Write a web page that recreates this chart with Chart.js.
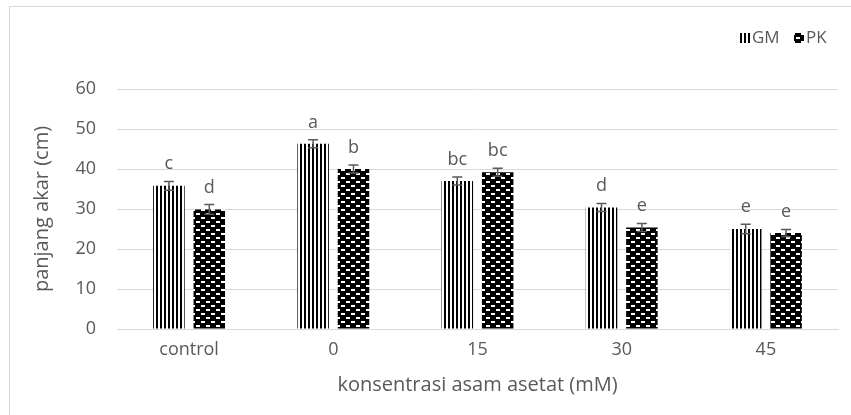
<!DOCTYPE html>
<html>
<head>
<meta charset="utf-8">
<script src="https://cdn.jsdelivr.net/npm/chart.js@4"></script>
<style>
  html, body { margin: 0; padding: 0; background: #fff; }
  #wrap { position: relative; width: 851px; height: 415px; }
</style>
</head>
<body>
<div id="wrap"><canvas id="c" width="851" height="415"></canvas></div>
<script>
// Root length per acetic acid concentration, two varieties
const categories = ['control', '0', '15', '30', '45'];
const gmValues = [35.8, 46.3, 37.0, 30.4, 25.0];
const pkValues = [29.9, 40.0, 39.2, 25.4, 24.0];
const gmErrors = [1.1, 1.0, 1.0, 1.0, 1.2];
const pkErrors = [1.2, 1.0, 1.0, 1.0, 0.9];
const gmLetters = ['c', 'a', 'bc', 'd', 'e'];
const pkLetters = ['d', 'b', 'bc', 'e', 'e'];
const yTicks = [0, 10, 20, 30, 40, 50, 60];

const FONT = '"Open Sans", "Noto Sans", sans-serif';
const TEXT = '#595959';

// vertical stripe fill
function stripePattern() {
  const t = document.createElement('canvas');
  t.width = 4; t.height = 4;
  const g = t.getContext('2d');
  g.fillStyle = '#ffffff'; g.fillRect(0, 0, 4, 4);
  g.fillStyle = '#000000'; g.fillRect(0, 0, 2, 4);
  return g.createPattern(t, 'repeat');
}
// black fill with staggered white dashes
function brickPattern() {
  const t = document.createElement('canvas');
  t.width = 10; t.height = 8;
  const g = t.getContext('2d');
  g.fillStyle = '#000000'; g.fillRect(0, 0, 10, 8);
  g.fillStyle = '#ffffff';
  g.fillRect(1, 1, 4, 2);
  g.fillRect(6, 5, 4, 2);
  g.fillRect(0, 5, 0, 2);
  return g.createPattern(t, 'repeat');
}
const gmFill = stripePattern();
const pkFill = brickPattern();

// error bars and significance letters
const errorPlugin = {
  id: 'errorBars',
  afterDatasetsDraw(chart) {
    const ctx = chart.ctx;
    const y = chart.scales.y;
    const errs = [gmErrors, pkErrors];
    const letters = [gmLetters, pkLetters];
    chart.data.datasets.forEach((ds, di) => {
      const meta = chart.getDatasetMeta(di);
      meta.data.forEach((bar, i) => {
        const v = ds.data[i];
        const top = y.getPixelForValue(v + errs[di][i]);
        const bot = y.getPixelForValue(v - errs[di][i]);
        const x = bar.x;
        ctx.save();
        ctx.strokeStyle = '#595959';
        ctx.lineWidth = 1.5;
        ctx.beginPath();
        ctx.moveTo(x, top); ctx.lineTo(x, bot);
        ctx.moveTo(x - 5, top); ctx.lineTo(x + 5, top);
        ctx.moveTo(x - 5, bot); ctx.lineTo(x + 5, bot);
        ctx.stroke();
        ctx.fillStyle = TEXT;
        ctx.font = '18px ' + FONT;
        ctx.textAlign = 'center';
        ctx.textBaseline = 'alphabetic';
        ctx.fillText(letters[di][i], x, top - 12);
        ctx.restore();
      });
    });
  }
};

// outer frame and legend
const framePlugin = {
  id: 'frame',
  beforeDraw(chart) {
    const ctx = chart.ctx;
    ctx.save();
    ctx.fillStyle = '#ffffff';
    ctx.fillRect(0, 0, chart.width, chart.height);
    ctx.strokeStyle = '#d9d9d9';
    ctx.lineWidth = 1;
    ctx.strokeRect(9.5, 6.5, chart.width + 10, chart.height + 10);
    ctx.restore();
  },
  afterDraw(chart) {
    const ctx = chart.ctx;
    const items = [
      { label: 'GM', fill: gmFill, x: 740 },
      { label: 'PK', fill: pkFill, x: 794 }
    ];
    ctx.save();
    ctx.font = '17px ' + FONT;
    ctx.textBaseline = 'middle';
    ctx.textAlign = 'left';
    items.forEach(it => {
      ctx.fillStyle = it.fill;
      ctx.fillRect(it.x, 33, 10, 10);
      ctx.fillStyle = TEXT;
      ctx.fillText(it.label, it.x + 12, 38);
    });
    ctx.restore();
  }
};

new Chart(document.getElementById('c'), {
  type: 'bar',
  data: {
    labels: categories,
    datasets: [
      { label: 'GM', data: gmValues, backgroundColor: gmFill, borderWidth: 0 },
      { label: 'PK', data: pkValues, backgroundColor: pkFill, borderWidth: 0 }
    ]
  },
  options: {
    responsive: false,
    animation: false,
    devicePixelRatio: 1,
    layout: { padding: { left: 30, top: 89, right: 13, bottom: 14 } },
    datasets: { bar: { categoryPercentage: 0.56, barPercentage: 0.78 } },
    plugins: { legend: { display: false }, tooltip: { enabled: false } },
    scales: {
      x: {
        grid: { display: false, drawTicks: false },
        border: { display: true, color: '#d9d9d9', width: 1 },
        ticks: { color: TEXT, font: { family: FONT, size: 18 }, padding: 10 },
        title: { display: true, text: 'konsentrasi asam asetat (mM)', color: TEXT, font: { family: FONT, size: 20 }, padding: { top: 4, bottom: 4 } },
        afterFit(s) { s.height = 72; }
      },
      y: {
        min: 0, max: 60,
        afterBuildTicks(s) { s.ticks = yTicks.map(v => ({ value: v })); },
        grid: { color: '#d9d9d9', lineWidth: 1, drawTicks: false },
        border: { display: false },
        ticks: { color: TEXT, font: { family: FONT, size: 18 }, padding: 21 },
        title: { display: true, text: 'panjang akar (cm)', color: TEXT, font: { family: FONT, size: 20 }, padding: { top: 0, bottom: 0 } },
        afterFit(s) { s.width = 87; }
      }
    }
  },
  plugins: [framePlugin, errorPlugin]
});
</script>
</body>
</html>
